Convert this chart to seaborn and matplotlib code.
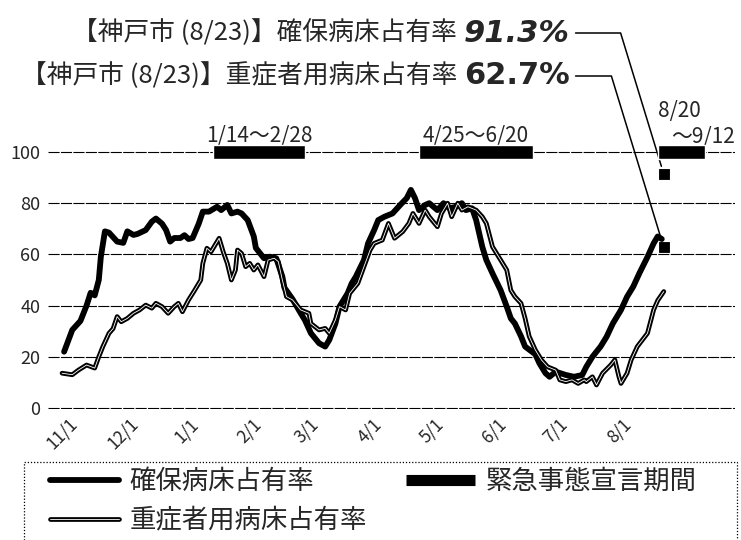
import pandas as pd
import matplotlib
matplotlib.use("Agg")
import matplotlib.pyplot as plt
import matplotlib.dates as mdates
import matplotlib.patheffects as pe
from matplotlib.lines import Line2D
from matplotlib.patches import Rectangle
import seaborn as sns

# ---- data -------------------------------------------------------------
start = pd.Timestamp("2020-11-01")

# 確保病床占有率 (%), days counted from 2020-11-01
secured_day = [1, 5, 9, 12, 14, 16, 18, 19, 21, 23, 27, 30, 32, 35, 37, 41, 44, 46, 49, 51,
               53, 55, 58, 60, 62, 64, 67, 69, 72, 76, 78, 81, 83, 86, 88, 91, 94, 95, 99, 102,
               105, 108, 109, 113, 117, 119, 122, 126, 129, 131, 134, 136, 140, 142, 144, 148,
               150, 153, 155, 158, 162, 166, 169, 171, 173, 175, 178, 180, 184, 187, 190, 193,
               196, 198, 201, 203, 206, 208, 211, 215, 218, 220, 222, 225, 227, 232, 234, 237,
               239, 242, 247, 251, 255, 257, 260, 264, 267, 270, 274, 277, 280, 283, 287, 290,
               292, 294]
secured_rate = [22, 30.5, 34, 40, 45, 44, 50, 59, 69, 68.5, 65, 64.5, 69, 67.6, 68, 69.5, 72.8, 74, 72, 69.5,
                65, 66.4, 66.4, 67.5, 66, 66.4, 72, 76.7, 76.7, 78.6, 77.3, 79.3, 76, 76.7, 76, 73.4, 67, 62.5, 58.5, 59.1,
                58.5, 51.3, 47, 42.5, 37, 34.4, 29.2, 25.3, 24, 26.6, 33, 39.6, 44.8, 48.7, 51.3, 57.8,
                64.3, 69.5, 73.4, 74.7, 76, 79.5, 82, 85.2, 82, 77.3, 79.3, 80, 77.3, 80, 78, 78.6,
                80, 77.3, 78, 73.4, 63, 57.8, 52.6, 46, 39.6, 35, 33, 28, 24, 21, 17.5, 13.6,
                12.2, 14.2, 12.9, 12.2, 12.9, 16.1, 20, 24, 27.9, 33, 38.3, 43.5, 47.4, 52.6, 59, 64.3,
                67, 66]

# 重症者用病床占有率 (%), days counted from 2020-11-01
severe_day = [0, 5, 8, 12, 16, 18, 20, 23, 25, 27, 29, 32, 35, 38, 41, 44, 46, 49, 52, 55,
              57, 59, 62, 65, 68, 69, 71, 73, 77, 79, 81, 83, 85, 86, 88, 90, 92, 94, 96, 99,
              101, 104, 106, 108, 110, 113, 117, 121, 122, 126, 129, 131, 134, 136, 139, 141, 145, 148, 151, 153,
              157, 160, 163, 167, 170, 172, 175, 178, 180, 184, 186, 189, 191, 194, 196, 199, 203, 206, 208, 211,
              213, 216, 218, 220, 222, 225, 227, 229, 232, 235, 238, 242, 244, 247, 250, 253, 256, 257, 260, 262,
              265, 269, 271, 273, 274, 277, 279, 282, 287, 290, 292, 295]
severe_rate = [13.6, 13, 14.8, 16.8, 15.6, 20, 24, 29.2, 31, 35.7, 33.7, 35, 37, 38.3, 40.2, 39, 40.9, 39.6, 37, 39.6,
               40.9, 37.6, 42.2, 46, 50, 56.5, 62.4, 61, 66.3, 61, 56.5, 50, 53.9, 61.7, 60.4, 55.2, 56.5, 53.9, 55.9, 51.3,
               57.8, 58.5, 57.2, 50, 43.5, 42.2, 38.3, 37, 33, 30.5, 31.1, 29.2, 34.4, 39.6, 38.3, 44.8, 48.7, 55.2, 61.7, 64.3,
               65.6, 72.1, 66.3, 68.9, 72.1, 76, 72.1, 77.3, 74.7, 70.8, 76, 80, 74.7, 80, 77.3, 78.6, 77.3, 74.7, 72.1, 63,
               60.4, 56.5, 53.9, 46, 43.5, 40.9, 35, 28, 22.7, 18.8, 16.1, 14.8, 11, 10.3, 11, 9.6, 11, 10.3, 12.2, 9,
               13.6, 16.8, 18.8, 12.2, 9.6, 13.6, 18.8, 24, 29.2, 38.3, 42, 45.5]

month_ticks = ["2020-11-01", "2020-12-01", "2021-01-01", "2021-02-01", "2021-03-01",
               "2021-04-01", "2021-05-01", "2021-06-01", "2021-07-01", "2021-08-01"]
month_labels = ["11/1", "12/1", "1/1", "2/1", "3/1", "4/1", "5/1", "6/1", "7/1", "8/1"]

emergency_start = ["2021-01-14", "2021-04-25", "2021-08-20"]
emergency_end = ["2021-02-28", "2021-06-20", "2021-09-12"]

kobe_date = "2021-08-23"
kobe_secured = 91.3
kobe_severe = 62.7

# ---- style ------------------------------------------------------------
sns.set_theme(style="white")
plt.rcParams["font.family"] = ["Noto Sans CJK JP", "DejaVu Sans"]

W, H = 741, 540
fig = plt.figure(figsize=(W / 100, H / 100), dpi=100)
ax = fig.add_axes([48 / W, (H - 409.3) / H, (735 - 48) / W, 258.6 / H])

secured = pd.DataFrame({"date": start + pd.to_timedelta(secured_day, unit="D"),
                        "rate": secured_rate})
severe = pd.DataFrame({"date": start + pd.to_timedelta(severe_day, unit="D"),
                       "rate": severe_rate})

outline = [pe.Stroke(linewidth=3.4, foreground="black"), pe.Normal()]

sns.lineplot(data=secured, x="date", y="rate", ax=ax, color="black", lw=4.2,
             solid_joinstyle="round", zorder=3)
sns.lineplot(data=severe, x="date", y="rate", ax=ax, color="white", lw=0.6,
             path_effects=outline, zorder=4)

# emergency declaration periods drawn along the 100 line
for s, e in zip(emergency_start, emergency_end):
    s0, e0 = mdates.date2num(pd.Timestamp(s)), mdates.date2num(pd.Timestamp(e))
    ax.barh(100, e0 - s0, left=s0, height=5.4, color="black", clip_on=False, zorder=5)

def md(d):
    t = pd.Timestamp(d)
    return f"{t.month}/{t.day}"

for s, e in zip(emergency_start[:2], emergency_end[:2]):
    s0, e0 = mdates.date2num(pd.Timestamp(s)), mdates.date2num(pd.Timestamp(e))
    ax.text((s0 + e0) / 2, 104, f"{md(s)}～{md(e)}", ha="center", va="baseline", fontsize=15)

s3 = mdates.date2num(pd.Timestamp(emergency_start[2]))
ax.text(s3, 113.7, md(emergency_start[2]), ha="left", va="baseline", fontsize=15)
ax.annotate(f"～{md(emergency_end[2])}", xy=(s3, 103.5), xycoords="data",
            xytext=(10, 0), textcoords="offset points", ha="left", va="baseline",
            fontsize=15, annotation_clip=False)

# Kobe city points on 8/23
kd = mdates.date2num(pd.Timestamp(kobe_date))
kobe = pd.DataFrame({"date": [pd.Timestamp(kobe_date)] * 2, "rate": [kobe_secured, kobe_severe]})
sns.scatterplot(data=kobe, x="date", y="rate", ax=ax, marker="s", s=60, color="black",
                edgecolor="black", zorder=6, clip_on=False)

# axes
ax.set_xlim(start - pd.Timedelta(days=6.9), start + pd.Timedelta(days=329.9))
ax.set_ylim(-0.5, 100.5)
ax.set_yticks([0, 20, 40, 60, 80, 100])
ax.set_xticks([pd.Timestamp(t) for t in month_ticks])
ax.set_xticklabels(month_labels, rotation=45, ha="center")
ax.set_xlabel("")
ax.set_ylabel("")
ax.tick_params(axis="y", length=0, labelsize=13, pad=5.5)
ax.tick_params(axis="x", length=0, labelsize=12.5, pad=4)
ax.grid(axis="y", color="black", lw=0.8, ls=(0, (10, 1.2)))
ax.grid(axis="x", visible=False)
ax.set_axisbelow(True)
for sp in ax.spines.values():
    sp.set_visible(False)

# headline figures with callout lines
num1 = fig.text(570 / W, 1 - 33 / H, f"{kobe_secured:.1f}%", ha="right", va="center",
                fontsize=22, fontweight="bold", fontstyle="italic", family="DejaVu Sans")
num2 = fig.text(570 / W, 1 - 76 / H, f"{kobe_severe:.1f}%", ha="right", va="center",
                fontsize=22, fontweight="bold", family="DejaVu Sans")
ax.annotate("【神戸市 (8/23)】確保病床占有率", xy=(0, 0.5), xycoords=num1,
            xytext=(-5, 0), textcoords="offset points", ha="right", va="center", fontsize=18.5)
ax.annotate("【神戸市 (8/23)】重症者用病床占有率", xy=(0, 0.5), xycoords=num2,
            xytext=(-5, 0), textcoords="offset points", ha="right", va="center", fontsize=18.5)

for num, val in ((num1, kobe_secured), (num2, kobe_severe)):
    ax.annotate("", xy=(kd, val), xycoords="data", xytext=(1, 0.5), textcoords=num,
                arrowprops=dict(arrowstyle="-", color="black", lw=1.1, shrinkA=4, shrinkB=6,
                                connectionstyle="angle,angleA=0,angleB=107,rad=0"),
                annotation_clip=False)

# legend
handles = [Line2D([], [], color="black", lw=4.2),
           Line2D([], [], color="white", lw=0.6, path_effects=outline),
           Line2D([], [], color="black", lw=8, solid_capstyle="butt")]
labels = ["確保病床占有率", "重症者用病床占有率", "緊急事態宣言期間"]
fig.legend(handles, labels, loc="upper left", bbox_to_anchor=(50 / W, 1 - 468 / H), ncol=2,
           frameon=False, fontsize=19, handlelength=2.6, handletextpad=0.4,
           columnspacing=1.5, labelspacing=0.45, borderpad=0, borderaxespad=0)
fig.patches.append(Rectangle((24 / W, -10 / H), (737 - 24) / W, (540 - 462 + 10) / H,
                             transform=fig.transFigure, fill=False, ec="black", lw=0.9,
                             ls=(0, (1, 1.5))))

fig.savefig("out.png", dpi=100, facecolor="white")
